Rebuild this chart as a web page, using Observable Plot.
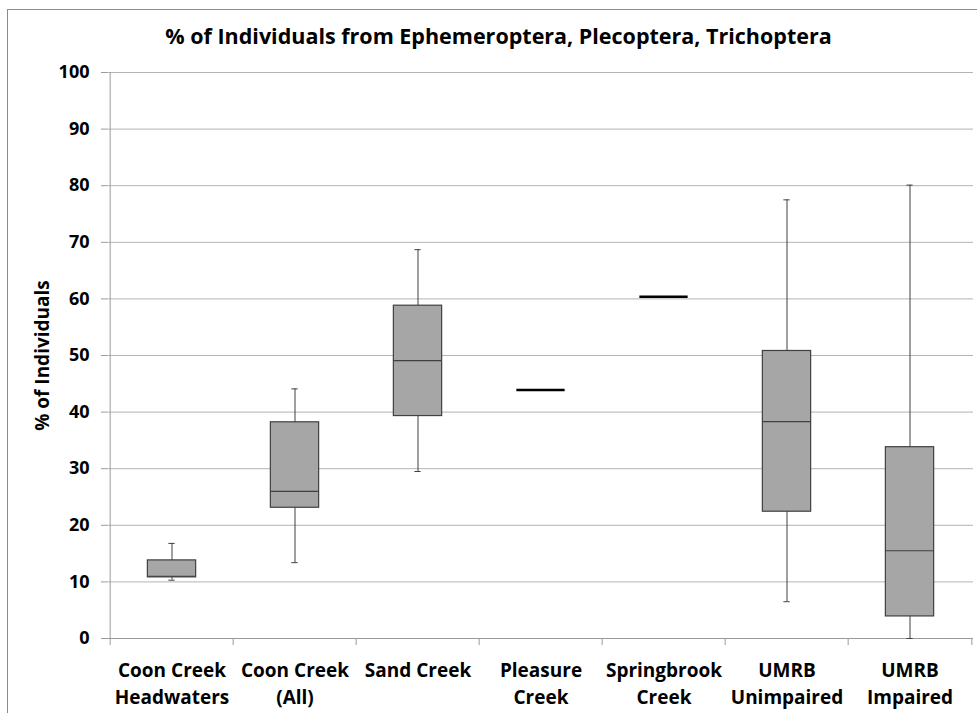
<!DOCTYPE html>
<html>
<head>
<meta charset="utf-8">
<script src="https://cdn.jsdelivr.net/npm/d3@7"></script>
<script src="https://cdn.jsdelivr.net/npm/@observablehq/plot@0.6"></script>
<style>
  html, body { margin: 0; padding: 0; background: #fff; width: 977px; height: 713px; overflow: hidden; }
  #frame { position: absolute; left: 7px; top: 9px; width: 1100px; height: 900px; border: 1px solid #8c8c8c; box-sizing: border-box; }
  #title { position: absolute; left: 0; top: 0; width: 997px; height: 60px; padding-top: 22px; box-sizing: border-box;
           line-height: 28px; text-align: center; font-family: "Open Sans", sans-serif; font-weight: bold; font-size: 21.5px; color: #000; }
  #chart { position: absolute; left: 0; top: 60px; }
</style>
</head>
<body>
<div id="frame"></div>
<div id="title">% of Individuals from Ephemeroptera, Plecoptera, Trichoptera</div>
<div id="chart"></div>
<script>
const categories = ["Coon Creek\nHeadwaters", "Coon Creek\n(All)", "Sand Creek", "Pleasure\nCreek", "Springbrook\nCreek", "UMRB\nUnimpaired", "UMRB\nImpaired"];
const minValues    = [10.3, 13.4, 29.5, 43.9, 60.4,  6.5,  0.0];
const q1Values     = [10.8, 23.1, 39.3, 43.9, 60.4, 22.4,  3.9];
const medianValues = [11.0, 26.0, 49.1, 43.9, 60.4, 38.3, 15.5];
const q3Values     = [13.8, 38.2, 58.8, 43.9, 60.4, 50.8, 33.8];
const maxValues    = [16.8, 44.1, 68.7, 43.9, 60.4, 77.5, 80.1];
const yTicks = [0, 10, 20, 30, 40, 50, 60, 70, 80, 90, 100];
const yLabel = "% of Individuals";

const data = categories.map((c, i) => ({
  category: c, min: minValues[i], q1: q1Values[i], median: medianValues[i], q3: q3Values[i], max: maxValues[i]
}));

const W = 977, H = 653, mL = 107, mR = 4, mT = 12, mB = 75;
const bw = (W - mL - mR) / categories.length;
const boxInset = (bw - 49) / 2;
const capInset = (bw - 7) / 2;
const gridColor = "#b3b3b3";
const axisColor = "#9a9a9a";

const chart = Plot.plot({
  width: W, height: H,
  marginLeft: mL, marginRight: mR, marginTop: mT, marginBottom: mB,
  style: { fontFamily: "Open Sans, sans-serif", fontSize: "18px", fontWeight: "bold", color: "#000", background: "transparent", overflow: "visible" },
  x: { type: "band", domain: categories, padding: 0, axis: null },
  y: { domain: [0, 100] },
  marks: [
    Plot.gridY(yTicks, { stroke: gridColor, strokeOpacity: 1 }),
    Plot.axisY(yTicks, { tickSize: 6, tickPadding: 12, stroke: axisColor, fill: "#000", label: null }),
    Plot.text([yLabel], { frameAnchor: "left", text: d => d, rotate: -90, textAnchor: "middle", dx: -65,
      fontSize: 19, fontWeight: "bold", fill: "#000" }),
    // left axis line & bottom axis line
    Plot.ruleX([categories[0]], { x: d => d, dx: -bw / 2, y1: 0, y2: 100, stroke: axisColor }),
    Plot.ruleY([0], { stroke: axisColor }),
    // category boundary ticks below the x axis
    Plot.ruleX(categories, { x: d => d, dx: -bw / 2, y1: 0, y2: -1.25, stroke: axisColor }),
    Plot.ruleX([categories[categories.length - 1]], { x: d => d, dx: bw / 2, y1: 0, y2: -1.25, stroke: axisColor }),
    // whiskers
    Plot.ruleX(data, { x: "category", y1: "min", y2: "max", stroke: "#404040", strokeWidth: 1 }),
    Plot.tickY(data, { x: "category", y: "max", stroke: "#404040", insetLeft: capInset, insetRight: capInset }),
    Plot.tickY(data, { x: "category", y: "min", stroke: "#404040", insetLeft: capInset, insetRight: capInset }),
    // boxes
    Plot.barY(data, { x: "category", y1: "q1", y2: "q3", fill: "#a6a6a6", stroke: "#404040", strokeWidth: 1.2,
      insetLeft: boxInset, insetRight: boxInset }),
    Plot.tickY(data, { x: "category", y: "median", stroke: d => d.q1 === d.q3 ? "#000" : "#404040",
      strokeWidth: d => d.q1 === d.q3 ? 2.5 : 1.2, insetLeft: boxInset, insetRight: boxInset }),
    // category labels
    Plot.text(data, { x: "category", y: () => 0, text: "category", dy: 20, lineAnchor: "top", lineHeight: 1.4,
      fontSize: 19, fontWeight: "bold", fill: "#000" })
  ]
});
document.getElementById("chart").appendChild(chart);
</script>
</body>
</html>
